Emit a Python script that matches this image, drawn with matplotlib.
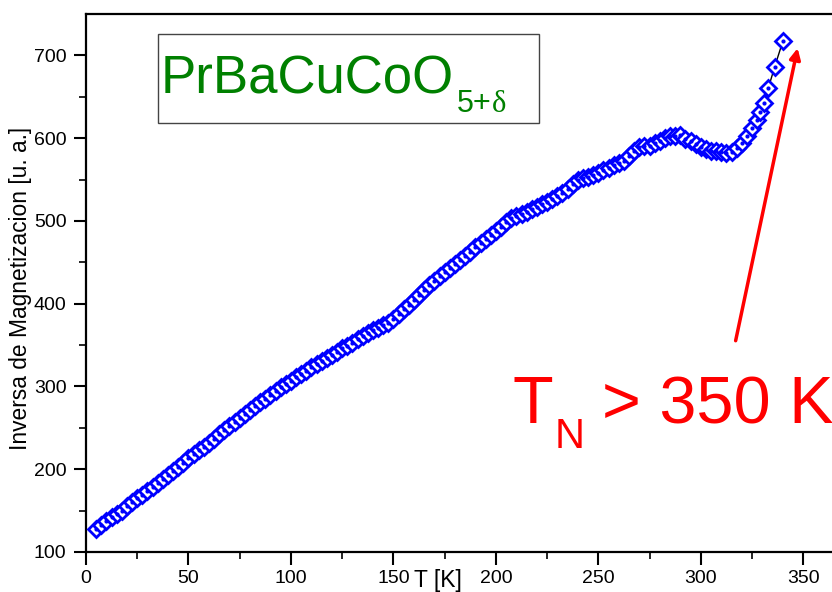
import numpy as np
import matplotlib
matplotlib.use('Agg')
import matplotlib.pyplot as plt
from matplotlib.patches import Rectangle

plt.rcParams['font.family'] = ['Liberation Sans', 'DejaVu Sans']

# Temperature [K] and inverse magnetization [u. a.]
temp = [5, 7.5, 10, 12.5, 15, 17.5, 20, 22.5, 25, 27.5, 30, 32.5, 35, 37.5, 40, 42.5, 45, 47.5,
        50, 52.5, 55, 57.5, 60, 62.5, 65, 67.5, 70, 72.5, 75, 77.5, 80, 82.5, 85, 87.5, 90, 92.5,
        95, 97.5, 100, 102.5, 105, 107.5, 110, 112.5, 115, 117.5, 120, 122.5, 125, 127.5, 130,
        132.5, 135, 137.5, 140, 142.5, 145, 147.5, 150, 152.5, 155, 157.5, 160, 162.5, 165, 167.5,
        170, 172.5, 175, 177.5, 180, 182.5, 185, 187.5, 190, 192.5, 195, 197.5, 200, 202.5, 205,
        207.5, 210, 212.5, 215, 217.5, 220, 222.5, 225, 227.5, 230, 232.5, 235, 237.5, 240, 242.5,
        245, 247.5, 250, 252.5, 255, 257.5, 260, 262.5, 265, 267.5, 270, 272.5, 275, 277.5, 280,
        282.5, 285, 287.5, 290, 292.5, 295, 297.5, 300, 302.5, 305, 307.5, 310, 312.5, 315, 317.5,
        320, 322.5, 325, 327.5, 329, 331, 333, 336, 340]
inv_mag = [128, 133, 138, 142, 146, 150, 155, 160, 165, 169, 174, 179, 183, 188, 193, 198, 203, 208,
           213, 218, 223, 227, 232, 237, 242, 247, 252, 257, 262, 267, 272, 276, 281, 285, 290, 294,
           299, 303, 307, 311, 315, 319, 323, 327, 331, 334, 338, 342, 346, 349, 353,
           357, 361, 364, 368, 371, 374, 377, 382, 387, 393, 399, 405, 411, 417, 422,
           428, 433, 438, 443, 448, 453, 458, 463, 468, 473, 478, 483, 488, 493, 499,
           503, 506, 508, 511, 514, 517, 520, 523, 527, 530, 534, 538, 545, 550, 552,
           553, 555, 558, 561, 564, 567, 570, 573, 578, 585, 589, 590, 591, 594, 597,
           600, 602, 603, 604, 599, 596, 593, 589, 587, 585, 584, 583, 582, 583, 588,
           594, 602, 612, 622, 632, 642, 661, 686, 717]

W, H = 832, 592
fig = plt.figure(figsize=(W / 100, H / 100), dpi=100)
ax = fig.add_axes([86 / W, 40 / H, (W - 86) / W, 538 / H])

ax.plot(temp, inv_mag, color='black', lw=1, zorder=2)
ax.plot(temp, inv_mag, ls='none', marker='D', markersize=8.5, markerfacecolor='white',
        markeredgecolor='blue', markeredgewidth=2, zorder=3)
ax.plot(temp, inv_mag, ls='none', marker='o', markersize=2, color='blue', zorder=4)

ax.set_xlim(0, 364)
ax.set_ylim(100, 750)
ax.set_xticks(np.arange(0, 351, 50))
ax.set_xticks(np.arange(25, 351, 50), minor=True)
ax.set_yticks(np.arange(100, 701, 100))
ax.set_yticks(np.arange(150, 701, 100), minor=True)
ax.tick_params(which='major', direction='out', length=9, width=1.5, labelsize=14)
ax.tick_params(axis='x', which='major', pad=4)
ax.tick_params(axis='y', which='major', pad=5)
ax.tick_params(which='minor', direction='out', length=5, width=1.2)
ax.spines['right'].set_visible(False)
for s in ['left', 'bottom', 'top']:
    ax.spines[s].set_linewidth(1.6)

fig.text(21 / W, 1 - 288 / H, 'Inversa de Magnetizacion [u. a.]', fontsize=16.4,
         rotation=90, ha='center', va='center')
fig.text(438 / W, 1 - 587 / H, 'T [K]', fontsize=16.5, ha='center', va='baseline')

# compound label in a box
fig.patches.append(Rectangle((158 / W, 1 - 123 / H), (539 - 158) / W, (123 - 34) / H,
                             transform=fig.transFigure, fill=False, edgecolor='#444444', lw=1))
fig.text(161 / W, 1 - 93 / H, 'PrBaCuCoO', fontsize=38, color='#008000', va='baseline')
fig.text(457 / W, 1 - 112 / H, '5+', fontsize=22, color='#008000', va='baseline')
fig.text(492 / W, 1 - 112 / H, 'δ', fontsize=22, color='#008000', va='baseline',
         family=['Liberation Serif', 'DejaVu Serif'])

# Neel temperature annotation
ax.annotate('', xy=(347.5, 712), xytext=(316.7, 352),
            arrowprops=dict(arrowstyle='-|>', color='red', lw=2.5, mutation_scale=16))
fig.text(513 / W, 1 - 423 / H, 'T', fontsize=48, color='red', va='baseline')
fig.text(555 / W, 1 - 448 / H, 'N', fontsize=30, color='red', va='baseline')
fig.text(602 / W, 1 - 423 / H, '> 350 K', fontsize=48, color='red', va='baseline')

fig.savefig('out.png', dpi=100)
